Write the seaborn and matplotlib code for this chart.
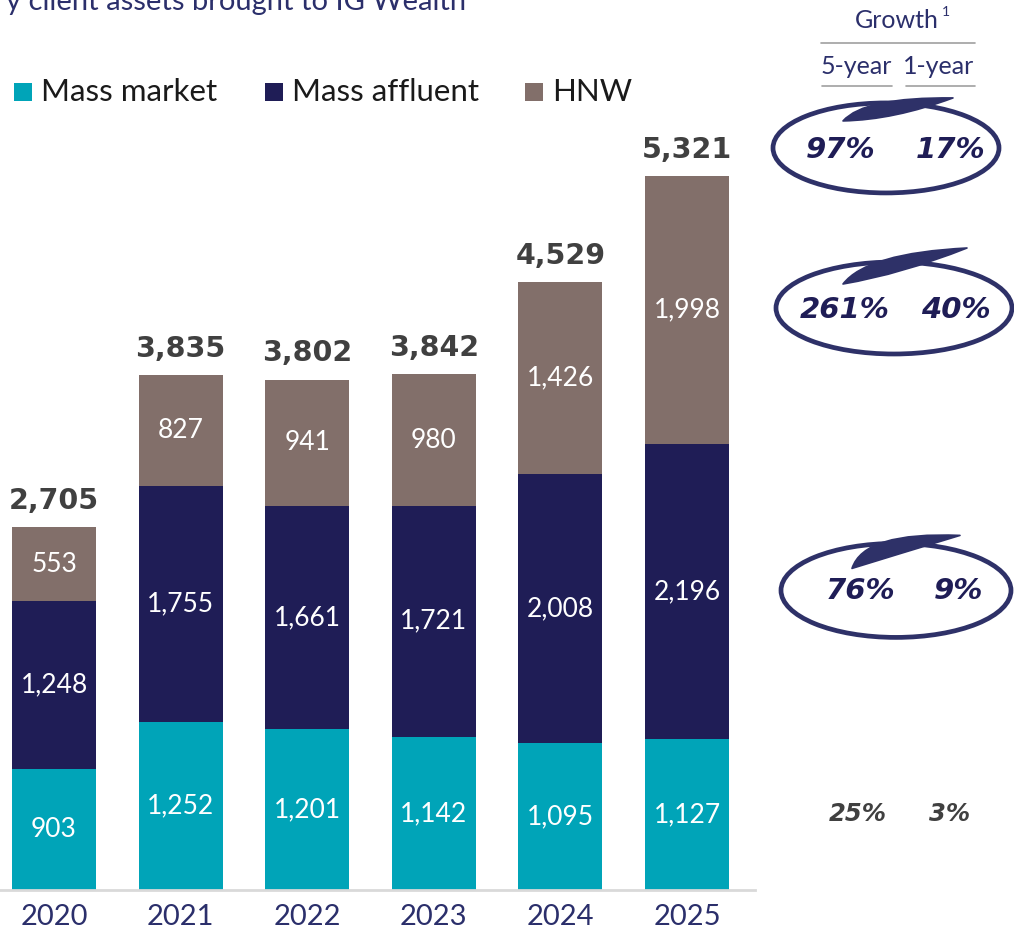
import matplotlib
matplotlib.use("Agg")
import matplotlib.pyplot as plt
import seaborn as sns
import pandas as pd
from matplotlib.patches import Ellipse, Rectangle, PathPatch
from matplotlib.path import Path

# ---------------- data ----------------
years = ["2020", "2021", "2022", "2023", "2024", "2025"]
mass_market = [903, 1252, 1201, 1142, 1095, 1127]
mass_affluent = [1248, 1755, 1661, 1721, 2008, 2196]
hnw = [553, 827, 941, 980, 1426, 1998]
totals = [2705, 3835, 3802, 3842, 4529, 5321]
series_names = ["Mass market", "Mass affluent", "HNW"]
growth_header = "Growth"
growth_cols = ["5-year", "1-year"]
growth_rows = ["Total", "HNW", "Mass affluent", "Mass market"]
growth_5y = ["97%", "261%", "76%", "25%"]
growth_1y = ["17%", "40%", "9%", "3%"]
title_text = "y client assets brought to IG Wealth"

# ---------------- style ----------------
C_MM = "#00A4B8"
C_MA = "#1F1D56"
C_HNW = "#826F6A"
NAVY = "#2B2F6B"
DARK = "#404040"

sns.set_theme(style="white")
plt.rcParams["font.family"] = ["Lato", "DejaVu Sans"]

W, H = 1014, 936
fig = plt.figure(figsize=(W / 100, H / 100), dpi=100)
ax = fig.add_axes([0, 46 / H, 755 / W, 890 / H])

df = pd.DataFrame({"year": years, "mm": mass_market, "ma": mass_affluent, "hnw": hnw})
df["lvl2"] = df["mm"] + df["ma"]
df["lvl3"] = df["lvl2"] + df["hnw"]

for col, c in [("lvl3", C_HNW), ("lvl2", C_MA), ("mm", C_MM)]:
    sns.barplot(data=df, x="year", y=col, color=c, saturation=1, width=0.663,
                linewidth=0, ax=ax, errorbar=None)

ax.set_xlim(-0.427, 5.537)
ax.set_ylim(0, 6632)
ax.set_yticks([])
ax.set_xlabel("")
ax.set_ylabel("")
for s in ["top", "left", "right"]:
    ax.spines[s].set_visible(False)
ax.spines["bottom"].set_color("#d9d9d9")
ax.spines["bottom"].set_linewidth(2)
ax.tick_params(axis="x", length=0, pad=10, labelsize=21, labelcolor=NAVY)

# segment labels
for i in range(len(years)):
    b0 = 0
    for v in (mass_market[i], mass_affluent[i], hnw[i]):
        ax.text(i, b0 + v / 2, f"{v:,}", ha="center", va="center",
                color="white", fontsize=19)
        b0 += v
    ax.annotate(f"{totals[i]:,}", (i, df["lvl3"][i]), xytext=(0, 19),
                textcoords="offset points", ha="center", va="center",
                fontsize=20.5, fontweight="bold", color=DARK,
                family=["DejaVu Sans"])

# ---------------- overlay (pixel coordinates) ----------------
ov = fig.add_axes([0, 0, 1, 1], zorder=5)
ov.set_xlim(0, W)
ov.set_ylim(H, 0)
ov.axis("off")
ov.patch.set_alpha(0)


def img_y(v):
    return H - ax.transData.transform((0, v))[1]


# title (cut at the top, as in the source)
ov.text(466, 10, title_text, ha="right", va="baseline", fontsize=21, color=NAVY)

# legend
for (x0, name, c) in [(14, series_names[0], C_MM), (265, series_names[1], C_MA),
                      (525, series_names[2], C_HNW)]:
    ov.add_patch(Rectangle((x0, 83), 18, 18, color=c, lw=0))
    ov.text(x0 + 27, 92, name, ha="left", va="center", fontsize=22.5, color="#1a1a1a")

# growth header
ov.text(897, 20, growth_header, ha="center", va="center", fontsize=18, color=NAVY)
ov.text(946, 12, "1", ha="center", va="center", fontsize=10, color=NAVY)
ov.plot([821, 975], [43, 43], color="#a0a0a0", lw=1.2)
ov.text(856, 66, growth_cols[0], ha="center", va="center", fontsize=18, color=NAVY)
ov.text(939, 66, growth_cols[1], ha="center", va="center", fontsize=18, color=NAVY)
ov.plot([822, 892], [86, 86], color="#a0a0a0", lw=1.2)
ov.plot([906, 975], [86, 86], color="#a0a0a0", lw=1.2)

# growth rows aligned to 2025 segments
last = len(years) - 1
row_y = [
    img_y(df["lvl3"][last]) - 26,
    img_y(df["lvl2"][last] + hnw[last] / 2),
    img_y(mass_market[last] + mass_affluent[last] / 2),
    img_y(mass_market[last] / 2),
]
x5 = [841, 845, 861, 858]
x1 = [951, 956, 958, 950]
# cx, width, height, dy, swoosh start, upper ctrl, tip, lower ctrl (relative to row)
ell = [(886, 226, 90, -2, (-43, -29), (-22, -53), (67, -52), (8, -30)),
       (894, 236, 92, -2, (-51, -26), (-27, -57), (73, -62), (8, -36)),
       (896, 230, 94, -1, (-44, -23), (-32, -60), (64, -56), (-2, -36))]
ELL_C = "#2E3168"
for r in range(4):
    y = row_y[r]
    circled = r < 3
    col = "#1F1D56" if circled else DARK
    fs = 21 if circled else 17.5
    ov.text(x5[r], y, growth_5y[r], ha="center", va="center", fontsize=fs,
            fontweight="bold", style="italic", color=col, family=["DejaVu Sans"])
    ov.text(x1[r], y, growth_1y[r], ha="center", va="center", fontsize=fs,
            fontweight="bold", style="italic", color=col, family=["DejaVu Sans"])
    if circled:
        cx, w, h, dy, s, u, t, l = ell[r]
        ov.add_patch(Ellipse((cx, y + dy), w, h, fill=False, ec=ELL_C, lw=3.4))
        pts = [(cx + p[0], y + p[1]) for p in (s, u, t, l, s, s)]
        codes = [Path.MOVETO, Path.CURVE3, Path.CURVE3, Path.CURVE3, Path.CURVE3,
                 Path.CLOSEPOLY]
        ov.add_patch(PathPatch(Path(pts, codes), fc=ELL_C, ec=ELL_C, lw=1.2,
                               joinstyle="round"))

fig.savefig("out.png", dpi=100)
